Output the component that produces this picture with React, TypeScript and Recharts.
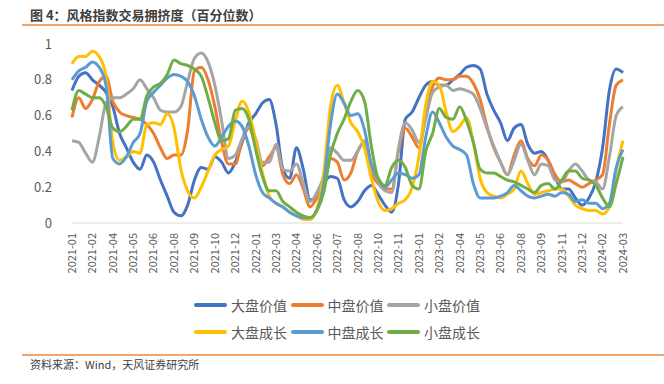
import { LineChart, Line, XAxis, YAxis } from "recharts";

const xLabels = [
  "2021-01", "2021-02", "2021-04", "2021-05", "2021-06", "2021-08", "2021-09",
  "2021-10", "2021-12", "2022-01", "2022-03", "2022-04", "2022-06", "2022-07",
  "2022-08", "2022-10", "2022-11", "2023-01", "2023-02", "2023-04", "2023-05",
  "2023-06", "2023-08", "2023-09", "2023-11", "2023-12", "2024-02", "2024-03",
];

const yTicks = [0, 0.2, 0.4, 0.6, 0.8, 1];

// 大盘价值
const bigValue = [
  0.74, 0.82, 0.84, 0.8, 0.77, 0.73, 0.65, 0.5, 0.42, 0.34, 0.3, 0.38, 0.34, 0.24,
  0.15, 0.06, 0.04, 0.1, 0.24, 0.31, 0.3, 0.37, 0.34, 0.28, 0.34, 0.45, 0.56, 0.61,
  0.67, 0.69, 0.55, 0.3, 0.25, 0.42, 0.3, 0.13, 0.14, 0.22, 0.26, 0.25, 0.13, 0.09,
  0.12, 0.18, 0.21, 0.16, 0.1, 0.06, 0.22, 0.58, 0.62, 0.7, 0.77, 0.79, 0.77, 0.77,
  0.8, 0.83, 0.87, 0.88, 0.86, 0.72, 0.63, 0.56, 0.46, 0.53, 0.55, 0.44, 0.39, 0.4,
  0.35, 0.26, 0.19, 0.19, 0.14, 0.1, 0.14, 0.23, 0.42, 0.74, 0.86, 0.84,
];

// 中盘价值
const midValue = [
  0.59, 0.7, 0.64, 0.69, 0.79, 0.82, 0.68, 0.62, 0.6, 0.59, 0.58, 0.55, 0.5, 0.42,
  0.36, 0.38, 0.38, 0.52, 0.85, 0.87, 0.8, 0.65, 0.45, 0.33, 0.33, 0.46, 0.53, 0.44,
  0.32, 0.37, 0.42, 0.27, 0.22, 0.27, 0.19, 0.09, 0.14, 0.2, 0.36, 0.34, 0.24, 0.28,
  0.4, 0.45, 0.28, 0.22, 0.19, 0.19, 0.4, 0.53, 0.48, 0.42, 0.6, 0.76, 0.81, 0.8,
  0.8, 0.82, 0.82, 0.78, 0.69, 0.54, 0.42, 0.34, 0.27, 0.38, 0.46, 0.36, 0.32, 0.38,
  0.35, 0.27, 0.23, 0.24, 0.22, 0.2, 0.22, 0.24, 0.27, 0.55, 0.77, 0.8,
];

// 小盘价值
const smallValue = [
  0.46, 0.45, 0.39, 0.34, 0.48, 0.67, 0.7, 0.7, 0.72, 0.75, 0.8, 0.75, 0.7, 0.63,
  0.62, 0.62, 0.65, 0.79, 0.92, 0.95, 0.9, 0.77, 0.57, 0.36, 0.38, 0.47, 0.54, 0.47,
  0.34, 0.34, 0.44, 0.3, 0.29, 0.33, 0.22, 0.12, 0.17, 0.26, 0.42, 0.39, 0.35, 0.35,
  0.4, 0.46, 0.32, 0.23, 0.18, 0.17, 0.42, 0.56, 0.52, 0.45, 0.58, 0.73, 0.76, 0.77,
  0.74, 0.75, 0.74, 0.72, 0.64, 0.53, 0.43, 0.34, 0.27, 0.35, 0.44, 0.35, 0.27, 0.33,
  0.32, 0.24, 0.23, 0.29, 0.33, 0.29, 0.24, 0.23, 0.19, 0.37, 0.6, 0.65,
];

// 大盘成长
const bigGrowth = [
  0.89, 0.93, 0.93, 0.96, 0.93, 0.82, 0.45, 0.35, 0.37, 0.4, 0.39, 0.55, 0.56, 0.55,
  0.61, 0.53, 0.3, 0.18, 0.14, 0.2, 0.29, 0.38, 0.41, 0.43, 0.57, 0.68, 0.62, 0.46,
  0.28, 0.15, 0.11, 0.09, 0.06, 0.04, 0.02, 0.02, 0.08, 0.28, 0.65, 0.77, 0.67, 0.56,
  0.51, 0.42, 0.25, 0.12, 0.07, 0.08, 0.11, 0.13, 0.2, 0.37, 0.66, 0.79, 0.77, 0.62,
  0.51, 0.54, 0.59, 0.45, 0.25, 0.17, 0.15, 0.14, 0.16, 0.19, 0.29, 0.22, 0.16, 0.17,
  0.18, 0.19, 0.19, 0.15, 0.1, 0.08, 0.07, 0.07, 0.05, 0.09, 0.3, 0.46,
];

// 中盘成长
const midGrowth = [
  0.8, 0.85, 0.87, 0.9, 0.87, 0.77, 0.36, 0.33, 0.37, 0.45, 0.5, 0.68, 0.73, 0.77,
  0.81, 0.83, 0.82, 0.79, 0.71, 0.58, 0.48, 0.43, 0.48, 0.54, 0.57, 0.54, 0.43, 0.27,
  0.17, 0.14, 0.11, 0.09, 0.06, 0.04, 0.03, 0.03, 0.07, 0.22, 0.55, 0.72, 0.67, 0.6,
  0.61, 0.52, 0.33, 0.25, 0.2, 0.24, 0.28, 0.27, 0.25, 0.27, 0.48, 0.62, 0.56, 0.48,
  0.43, 0.41, 0.38, 0.22, 0.14, 0.14, 0.14, 0.15, 0.17, 0.21, 0.18, 0.15, 0.14, 0.15,
  0.16, 0.15, 0.17, 0.16, 0.12, 0.13, 0.11, 0.11, 0.08, 0.11, 0.31, 0.41,
];

// 小盘成长
const smallGrowth = [
  0.63, 0.74, 0.72, 0.7, 0.7, 0.65, 0.53, 0.51, 0.54, 0.58, 0.58, 0.71, 0.76, 0.78,
  0.83, 0.91, 0.89, 0.88, 0.86, 0.82, 0.7, 0.56, 0.46, 0.47, 0.63, 0.64, 0.58, 0.41,
  0.26, 0.18, 0.18, 0.12, 0.09, 0.06, 0.04, 0.03, 0.07, 0.17, 0.38, 0.5, 0.58, 0.68,
  0.74, 0.68, 0.43, 0.25, 0.21, 0.31, 0.35, 0.31, 0.21, 0.19, 0.4, 0.5, 0.64, 0.59,
  0.58, 0.65, 0.57, 0.45, 0.3, 0.28, 0.28, 0.26, 0.24, 0.23, 0.21, 0.19, 0.17, 0.21,
  0.22, 0.19, 0.24, 0.29, 0.29, 0.25, 0.24, 0.21, 0.14, 0.09, 0.22, 0.37,
];

const series = [
  { key: "bigValue", name: "大盘价值", color: "#4472C4", values: bigValue },
  { key: "midValue", name: "中盘价值", color: "#ED7D31", values: midValue },
  { key: "smallValue", name: "小盘价值", color: "#A5A5A5", values: smallValue },
  { key: "bigGrowth", name: "大盘成长", color: "#FFC000", values: bigGrowth },
  { key: "midGrowth", name: "中盘成长", color: "#5B9BD5", values: midGrowth },
  { key: "smallGrowth", name: "小盘成长", color: "#70AD47", values: smallGrowth },
];

// biweekly points, one axis label every third point
const data = bigValue.map((_, i) => {
  const row: Record<string, number> = { i };
  series.forEach((s) => (row[s.key] = s.values[i]));
  return row;
});

const FONT = '"Noto Sans CJK SC", "Noto Sans", sans-serif';
const TEXT = "#595959";

const DateTick = (props: any) => {
  const { x, y, payload } = props;
  const i = payload.value;
  if (i % 3 !== 0) return <g />;
  return (
    <text
      x={x}
      y={y}
      transform={`rotate(-90 ${x} ${y})`}
      textAnchor="end"
      dy="0.35em"
      fontSize={11}
      fontFamily={FONT}
      fill={TEXT}
    >
      {xLabels[i / 3]}
    </text>
  );
};

const LegendRow = ({ items, top }: { items: typeof series; top: number }) => (
  <div style={{ position: "absolute", left: 194, top, display: "flex" }}>
    {items.map((s) => (
      <div key={s.key} style={{ display: "flex", alignItems: "center", width: 96.5 }}>
        <div style={{ width: 33, height: 4, borderRadius: 2, background: s.color }} />
        <span style={{ marginLeft: 4, fontSize: 14, color: TEXT, fontFamily: FONT, lineHeight: "18px" }}>
          {s.name}
        </span>
      </div>
    ))}
  </div>
);

export default function App() {
  return (
    <div
      style={{
        position: "absolute",
        left: 0,
        top: 0,
        width: 664,
        height: 384,
        background: "#fff",
        fontFamily: FONT,
        overflow: "hidden",
      }}
    >
      <div
        style={{
          position: "absolute",
          left: 30,
          top: 6,
          fontSize: 13,
          fontWeight: 700,
          color: "#404040",
          lineHeight: "18px",
        }}
      >
        图 4：风格指数交易拥挤度（百分位数）
      </div>
      <div style={{ position: "absolute", left: 22, right: 0, top: 24, height: 2, background: "#F2A46B" }} />

      <div style={{ position: "absolute", left: 0, top: 0 }}>
        <LineChart width={664} height={384} data={data} margin={{ top: 44, right: 41, left: 12, bottom: 0 }}>
          <XAxis
            dataKey="i"
            interval={0}
            height={161}
            tickLine={false}
            tickMargin={4}
            axisLine={{ stroke: "#D9D9D9" }}
            tick={<DateTick />}
          />
          <YAxis
            width={60}
            domain={[0, 1]}
            ticks={yTicks}
            axisLine={false}
            tickLine={false}
            tickMargin={14}
            tick={{ fontSize: 13, fill: TEXT, fontFamily: FONT }}
          />
          {series.map((s) => (
            <Line
              key={s.key}
              dataKey={s.key}
              name={s.name}
              type="monotone"
              stroke={s.color}
              strokeWidth={3}
              dot={false}
              isAnimationActive={false}
            />
          ))}
        </LineChart>
      </div>

      <LegendRow items={series.slice(0, 3)} top={296} />
      <LegendRow items={series.slice(3)} top={323} />

      <div style={{ position: "absolute", left: 22, right: 0, top: 354, height: 2, background: "#F2A46B" }} />
      <div style={{ position: "absolute", left: 30, top: 356, fontSize: 11, color: "#404040", lineHeight: "16px" }}>
        资料来源：Wind，天风证券研究所
      </div>
    </div>
  );
}
